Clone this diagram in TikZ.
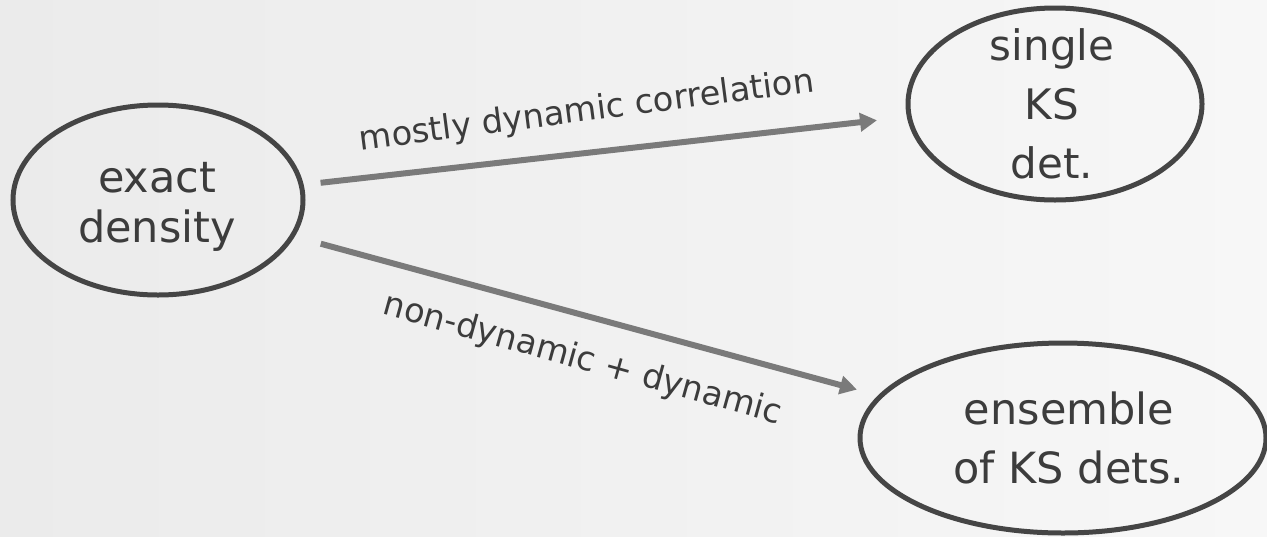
\documentclass[tikz,border=0pt]{standalone}
\usepackage{fontspec}
\setmainfont{DejaVu Sans}
\usetikzlibrary{arrows.meta,shapes.geometric}
\definecolor{edgegray}{HTML}{454545}
\definecolor{arrowgray}{HTML}{7A7A7A}
\definecolor{txtgray}{HTML}{3C3C3C}
\definecolor{bgleft}{HTML}{EBEBEB}
\definecolor{bgright}{HTML}{F7F7F7}
\begin{document}
\begin{tikzpicture}[x=0.5pt,y=-0.5pt,
  state/.style={draw=edgegray, line width=2.5pt, ellipse, inner sep=0pt},
  nodetext/.style={text=txtgray, align=center, inner sep=0pt},
  flow/.style={draw=arrowgray, line width=3pt, -{Triangle[length=8.5pt,width=9pt]}},
  lbl/.style={text=txtgray, font=\fontsize{16.8}{20}\selectfont, anchor=base, inner sep=0pt}]
\shade[left color=bgleft, right color=bgright] (0,0) rectangle (1267,536);
\useasboundingbox (0,0) rectangle (1267,536);

\node[state, minimum width=145pt, minimum height=95pt] (ex) at (158,200) {};
\node[state, minimum width=147pt, minimum height=96pt] (sks) at (1055,104) {};
\node[state, minimum width=203pt, minimum height=95pt] (ens) at (1063,438) {};

\node[nodetext, font=\fontsize{21.5}{25}\selectfont] (extxt) at (157,207) {exact\\density};
\node[nodetext, font=\fontsize{21}{29.5}\selectfont] (skstxt) at (1052,104) {single\\KS\\det.};
\node[nodetext, font=\fontsize{21.5}{29.5}\selectfont] (enstxt) at (1069,438) {ensemble\\of KS dets.};

\draw[flow, shorten <=8.5pt, shorten >=15pt] (ex.6) -- (sks.185.7);
\draw[flow, shorten <=13.5pt, shorten >=11pt] (ex.-15) -- (ens.167);

\node[lbl, rotate=7.4] (l1) at (588,121) {mostly dynamic correlation};
\node[lbl, rotate=-15.5] (l2) at (580,369) {non-dynamic + dynamic};
\end{tikzpicture}
\end{document}
